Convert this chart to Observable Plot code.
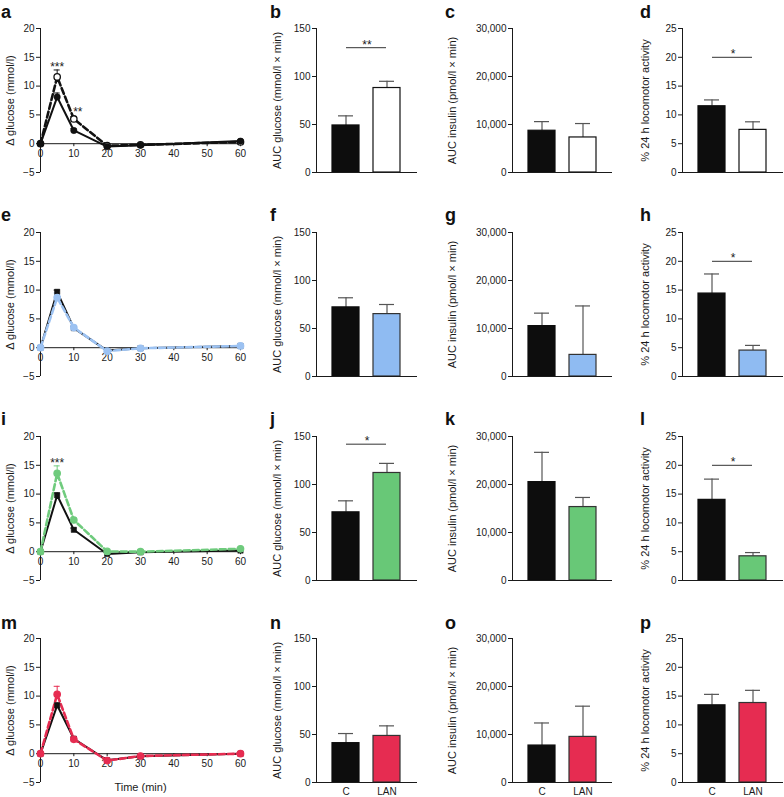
<!DOCTYPE html>
<html><head><meta charset="utf-8">
<script src="https://cdn.jsdelivr.net/npm/d3@7"></script>
<script src="https://cdn.jsdelivr.net/npm/@observablehq/plot@0.6"></script>
<style>
body{margin:0;background:#fff;font-family:"Liberation Sans",Arial,sans-serif;}
#root{position:relative;width:784px;height:797px;overflow:hidden;background:#fff}
.panel{position:absolute}
.letter{position:absolute;font-weight:bold;font-size:18px;line-height:18px;color:#111}
</style></head><body><div id="root"></div>
<script>
// ---------- data ----------
const TIMES = [0, 5, 10, 20, 30, 60];
const X_TICKS = [0, 10, 20, 30, 40, 50, 60];
const GLU_TICKS = [-5, 0, 5, 10, 15, 20];
const GROUPS = ["C", "LAN"];
const LETTERS = [["a","b","c","d"],["e","f","g","h"],["i","j","k","l"],["m","n","o","p"]];
const LAN_COLORS = ["#ffffff", "#8fbbf2", "#68c877", "#e62c51"];
const LAN_LINE_COLORS = ["#111111", "#9cc2f2", "#6fcb7d", "#e62c51"];

// Δ glucose time courses (mmol/l)
const gluC_a = [0, 8.1, 2.3, -0.5, -0.25, 0.45];
const gluCErr_a = [0, 0.7, 0.3, 0, 0, 0];
const gluLAN_a = [0, 11.6, 4.3, -0.35, -0.2, 0.3];
const gluLANErr_a = [0, 1.2, 0.4, 0, 0, 0];
const gluC_e = [0, 9.7, 3.4, -0.5, -0.1, 0.3];
const gluCErr_e = [0, 0.3, 0.3, 0, 0, 0];
const gluLAN_e = [0, 8.7, 3.5, -0.6, -0.1, 0.3];
const gluLANErr_e = [0, 0.8, 0.3, 0, 0, 0];
const gluC_i = [0, 9.8, 3.8, -0.4, -0.1, 0.2];
const gluCErr_i = [0, 0.4, 0.3, 0, 0, 0];
const gluLAN_i = [0, 13.6, 5.5, 0.05, 0, 0.5];
const gluLANErr_i = [0, 1.3, 0.4, 0, 0, 0];
const gluC_m = [0, 8.4, 2.6, -1.15, -0.45, 0];
const gluCErr_m = [0, 0.4, 0.3, 0, 0, 0];
const gluLAN_m = [0, 10.3, 2.5, -1.2, -0.4, 0];
const gluLANErr_m = [0, 1.4, 0.3, 0, 0, 0];
const stars_a = [{t: 5, y: 12.8, s: "***", dx: 0, dy: 1}, {t: 10, y: 4.7, s: "**", dx: 4, dy: -1}];
const stars_e = [];
const stars_i = [{t: 5, y: 14.9, s: "***", dx: 0, dy: 1}];
const stars_m = [];

// AUC glucose (mmol/l × min): [C, LAN]
const aucGlu_b = [49, 88], aucGluErr_b = [10, 7];
const aucGlu_f = [72, 65], aucGluErr_f = [10, 10];
const aucGlu_j = [71, 112], aucGluErr_j = [12, 10];
const aucGlu_n = [41, 48.5], aucGluErr_n = [10, 10.5];
// AUC insulin (pmol/l × min)
const aucIns_c = [8700, 7300], aucInsErr_c = [1900, 2900];
const aucIns_g = [10500, 4500], aucInsErr_g = [2700, 10200];
const aucIns_k = [20500, 15300], aucInsErr_k = [6200, 2000];
const aucIns_o = [7700, 9500], aucInsErr_o = [4700, 6400];
// % 24 h locomotor activity
const loco_d = [11.5, 7.4], locoErr_d = [1.1, 1.4];
const loco_h = [14.4, 4.5], locoErr_h = [3.4, 0.9];
const loco_l = [14.0, 4.2], locoErr_l = [3.6, 0.65];
const loco_p = [13.4, 13.8], locoErr_p = [1.9, 2.2];
// significance brackets
const sig_b = [{y: 130, s: "**"}], sig_f = [], sig_j = [{y: 142, s: "*"}], sig_n = [];
const sig_c = [], sig_g = [], sig_k = [], sig_o = [];
const sig_d = [{y: 20, s: "*"}], sig_h = [{y: 20, s: "*"}], sig_l = [{y: 20, s: "*"}], sig_p = [];

const GLU_AUC_TICKS = [0, 50, 100, 150];
const INS_TICKS = [0, 10000, 20000, 30000];
const LOCO_TICKS = [0, 5, 10, 15, 20, 25];

// ---------- layout ----------
const COLS = [
  {left: 0, width: 245, ml: 40, mr: 5},
  {left: 250, width: 170, ml: 66, mr: 3},
  {left: 420, width: 195, ml: 92, mr: 3},
  {left: 615, width: 169, ml: 67, mr: 1}
];
const ROW_TOPS = [0, 204, 408, 610];
const H = 187, MT = 28, MB = 15;
const FONT = "'Liberation Sans', Arial, sans-serif";
const INK = "#1a1a1a";

const root = document.getElementById("root");

function place(svg, left, top) {
  const d = document.createElement("div");
  d.className = "panel";
  d.style.left = left + "px";
  d.style.top = top + "px";
  d.appendChild(svg);
  root.appendChild(d);
}

function toSeries(vals, errs) {
  return TIMES.map((t, i) => ({t, v: vals[i], hi: vals[i] + errs[i], e: errs[i]}));
}

function linePanel(row, ctrl, ctrlErr, lan, lanErr, stars, showTime) {
  const col = COLS[0];
  const C = toSeries(ctrl, ctrlErr), L = toSeries(lan, lanErr);
  const Ce = C.filter(d => d.e > 0), Le = L.filter(d => d.e > 0);
  const lanFill = LAN_COLORS[row] === "#ffffff" ? "#ffffff" : LAN_LINE_COLORS[row];
  const lanStroke = row === 0 ? "#111" : LAN_LINE_COLORS[row];
  const ctrlDots = Plot.dot(C, {x: "t", y: "v", r: row === 0 ? 3.2 : 3, symbol: row === 0 ? "circle" : "square", fill: "#111", stroke: "#111", strokeWidth: 0.5});
  const lanDots = Plot.dot(L, {x: "t", y: "v", r: 3.2, fill: lanFill, stroke: lanStroke, strokeWidth: 1.3});
  const marks = [
    Plot.axisY({ticks: GLU_TICKS, tickSize: 4, tickPadding: 2, label: null, fontSize: 10, stroke: INK}),
    Plot.ruleX([0], {stroke: INK}),
    Plot.ruleY([0], {stroke: INK}),
    Plot.ruleX(X_TICKS, {x: d => d, y1: () => 0, y2: () => 0, insetBottom: -3, stroke: INK}),
    Plot.text(X_TICKS, {x: d => d, y: () => 0, dy: 6, lineAnchor: "top", text: d => String(d), fontSize: 10, fill: INK}),
    Plot.text(["Δ glucose (mmol/l)"], {frameAnchor: "left", textAnchor: "middle", rotate: -90, dx: -30, text: d => d, fontSize: 11, fill: INK}),
    // control
    Plot.ruleX(Ce, {x: "t", y1: "v", y2: "hi", stroke: "#111", strokeWidth: 1}),
    Plot.ruleY(Ce, {y: "hi", x1: "t", x2: "t", insetLeft: -3, insetRight: -3, stroke: "#111"}),
    Plot.line(C, {x: "t", y: "v", stroke: "#111", strokeWidth: 2}),
    // LAN
    Plot.ruleX(Le, {x: "t", y1: "v", y2: "hi", stroke: lanStroke, strokeWidth: 1}),
    Plot.ruleY(Le, {y: "hi", x1: "t", x2: "t", insetLeft: -3, insetRight: -3, stroke: lanStroke}),
    Plot.line(L, {x: "t", y: "v", stroke: lanStroke, strokeWidth: 2.6, strokeDasharray: "6,3"}),
    ...(row === 0 ? [lanDots, ctrlDots] : [ctrlDots, lanDots])
  ];
  for (const s of stars) marks.push(Plot.text([s], {x: "t", y: "y", text: "s", dx: s.dx, dy: s.dy, lineAnchor: "bottom", fontSize: 12, fill: INK}));
  if (showTime) marks.push(Plot.text(["Time (min)"], {frameAnchor: "bottom", lineAnchor: "top", dy: 1, text: d => d, fontSize: 11, fill: INK}));
  const svg = Plot.plot({
    width: col.width, height: H, marginLeft: col.ml, marginRight: col.mr, marginTop: MT, marginBottom: MB,
    x: {domain: [0, 60], axis: null},
    y: {domain: [-5, 20], axis: null},
    style: {fontFamily: FONT, fontSize: "10px", color: INK, overflow: "visible", background: "transparent"},
    marks
  });
  place(svg, col.left, ROW_TOPS[row]);
}

function barPanel(row, colIndex, vals, errs, domainMax, ticks, fmt, label, labelDx, sig, showX) {
  const col = COLS[colIndex];
  const data = GROUPS.map((g, i) => ({g, v: vals[i], hi: vals[i] + errs[i]}));
  const fills = ["#0d0d0d", LAN_COLORS[row]];
  const strokes = ["#0d0d0d", row === 0 ? "#111" : "#333"];
  const marks = [
    Plot.axisY({ticks, tickSize: 4, tickPadding: 2, tickFormat: fmt, label: null, fontSize: 10, stroke: INK}),
    Plot.ruleX(data, {x: "g", y1: "v", y2: "hi", stroke: "#555", strokeWidth: 1.2}),
    Plot.tickY(data, {x: "g", y: "hi", insetLeft: 6, insetRight: 6, stroke: "#555", strokeWidth: 1.2}),
    Plot.barY(data, {x: "g", y: "v", fill: (d, i) => fills[i], stroke: (d, i) => strokes[i], strokeWidth: 1.2}),
    Plot.frame({anchor: "left", stroke: INK}),
    Plot.ruleY([0], {stroke: INK}),
    Plot.ruleY(sig, {y: "y", x1: () => "C", x2: () => "LAN", insetLeft: 14, insetRight: 14, stroke: "#333"}),
    Plot.text(sig, {y: "y", text: "s", frameAnchor: "middle", lineAnchor: "bottom", dy: 1, fontSize: 12, fill: INK}),
    Plot.text([label], {frameAnchor: "left", textAnchor: "middle", rotate: -90, dx: labelDx, text: d => d, fontSize: 11, fill: INK})
  ];
  if (showX) marks.push(Plot.axisX({tickSize: 0, tickPadding: 5, label: null, fontSize: 10}));
  const svg = Plot.plot({
    width: col.width, height: H, marginLeft: col.ml, marginRight: col.mr, marginTop: MT, marginBottom: MB,
    x: showX ? {domain: GROUPS, paddingInner: 0.333, paddingOuter: 0.37} : {domain: GROUPS, paddingInner: 0.333, paddingOuter: 0.37, axis: null},
    y: {domain: [0, domainMax], axis: null},
    style: {fontFamily: FONT, fontSize: "10px", color: INK, overflow: "visible", background: "transparent"},
    marks
  });
  place(svg, col.left, ROW_TOPS[row]);
}

const fmtInt = d3.format("d");
const fmtComma = d3.format(",");
const GLU_LABEL = "AUC glucose (mmol/l × min)";
const INS_LABEL = "AUC insulin (pmol/l × min)";
const LOCO_LABEL = "% 24 h locomotor activity";

linePanel(0, gluC_a, gluCErr_a, gluLAN_a, gluLANErr_a, stars_a, false);
linePanel(1, gluC_e, gluCErr_e, gluLAN_e, gluLANErr_e, stars_e, false);
linePanel(2, gluC_i, gluCErr_i, gluLAN_i, gluLANErr_i, stars_i, false);
linePanel(3, gluC_m, gluCErr_m, gluLAN_m, gluLANErr_m, stars_m, true);

const aucGlu = [[aucGlu_b, aucGluErr_b, sig_b], [aucGlu_f, aucGluErr_f, sig_f], [aucGlu_j, aucGluErr_j, sig_j], [aucGlu_n, aucGluErr_n, sig_n]];
const aucIns = [[aucIns_c, aucInsErr_c, sig_c], [aucIns_g, aucInsErr_g, sig_g], [aucIns_k, aucInsErr_k, sig_k], [aucIns_o, aucInsErr_o, sig_o]];
const loco = [[loco_d, locoErr_d, sig_d], [loco_h, locoErr_h, sig_h], [loco_l, locoErr_l, sig_l], [loco_p, locoErr_p, sig_p]];
for (let r = 0; r < 4; r++) {
  barPanel(r, 1, aucGlu[r][0], aucGlu[r][1], 150, GLU_AUC_TICKS, fmtInt, GLU_LABEL, -39, aucGlu[r][2], r === 3);
  barPanel(r, 2, aucIns[r][0], aucIns[r][1], 30000, INS_TICKS, fmtComma, INS_LABEL, -60, aucIns[r][2], r === 3);
  barPanel(r, 3, loco[r][0], loco[r][1], 25, LOCO_TICKS, fmtInt, LOCO_LABEL, -37, loco[r][2], r === 3);
}

// panel letters
const LETTER_X = [1, 270, 445, 640];
const LETTER_BASE = [18, 221, 425, 629];
for (let r = 0; r < 4; r++) for (let c = 0; c < 4; c++) {
  const d = document.createElement("div");
  d.className = "letter";
  d.textContent = LETTERS[r][c];
  d.style.left = LETTER_X[c] + "px";
  d.style.top = (LETTER_BASE[r] - 15) + "px";
  root.appendChild(d);
}
</script></body></html>
